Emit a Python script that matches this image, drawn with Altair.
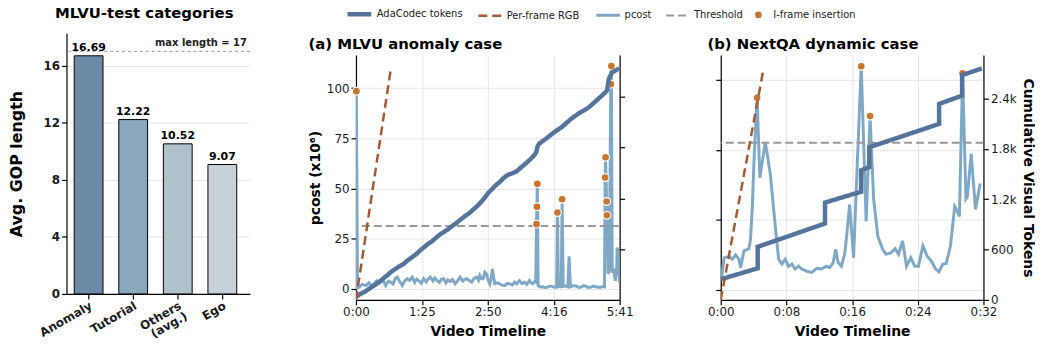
import altair as alt
import pandas as pd

FONT = "DejaVu Sans"

# ---------------- data ----------------
cats = ["Anomaly", "Tutorial", "Others (avg.)", "Ego"]
gop = [16.69, 12.22, 10.52, 9.07]
bar_colors = ["#6d8aa6", "#8aa7bb", "#afc1ca", "#c6d1d8"]
max_len = 17

SERIES = ["AdaCodec tokens", "Per-frame RGB", "pcost", "Threshold", "I-frame insertion"]
COLORS = ["#56739b", "#a65a33", "#7fa8c6", "#999999", "#c8762f"]
DASHES = [[1, 0], [9, 5], [1, 0], [8, 4], [1, 0]]
WIDTHS = [4.5, 2.5, 3, 2, 0]
LINE_SYMBOL = "M-2.4,0H2.4"
SHAPES = [LINE_SYMBOL, LINE_SYMBOL, LINE_SYMBOL, LINE_SYMBOL, "circle"]
SIZES = [100, 100, 100, 100, 45]

# (a) MLVU anomaly case: time in seconds
a_pcost = [
    (0.5, 98.5), (2.0, 0.5), (4.2, 0.8), (8.0, 2.2), (12.8, 1.6), (17.0, 3.0), (20.5, 1.2),
    (23.5, 2.5), (27.0, 4.0), (32.1, 3.3), (35.0, 4.5), (38.5, 1.6), (42.0, 3.8), (44.9, 3.3),
    (48.0, 2.4), (51.0, 5.2), (53.5, 5.8), (56.5, 3.6), (59.9, 1.6), (63.0, 3.9), (66.3, 5.0),
    (69.5, 4.2), (72.7, 5.8), (76.0, 3.2), (78.5, 4.8), (81.2, 4.1), (84.5, 2.8), (87.6, 5.0),
    (91.0, 3.4), (93.5, 4.9), (96.2, 5.8), (99.5, 3.9), (102.0, 5.4), (104.7, 4.1), (108.0, 3.2),
    (110.5, 4.7), (113.2, 5.0), (116.5, 2.9), (119.0, 4.4), (121.8, 3.6), (125.0, 4.6),
    (128.2, 2.5), (131.5, 4.0), (134.6, 5.8), (138.0, 3.8), (140.5, 4.6), (143.2, 5.0),
    (146.5, 4.1), (149.6, 3.3), (152.5, 5.1), (156.0, 5.8), (158.5, 4.3), (160.3, 6.6),
    (162.4, 5.0), (164.5, 5.0), (166.7, 8.3), (168.8, 7.4), (171.0, 4.4), (173.1, 2.5),
    (175.0, 5.5), (176.5, 9.9), (178.0, 6.0), (179.5, 2.5), (182.5, 3.0), (185.9, 2.5),
    (189.0, 1.8), (192.3, 1.6), (195.5, 2.6), (198.7, 2.5), (202.0, 1.9), (205.1, 3.3),
    (208.0, 2.4), (211.5, 4.1), (214.5, 2.6), (217.9, 3.3), (221.0, 2.2), (224.4, 4.1),
    (226.5, 3.0), (228.6, 2.5), (231.0, 3.6), (232.5, 3.3), (233.5, 32.2), (234.0, 40.9),
    (234.6, 52.3), (235.6, 1.6), (238.0, 0.9), (241.0, 1.0), (244.5, 0.6), (247.4, 0.8),
    (250.5, 1.3), (253.8, 1.2), (257.0, 0.7), (259.5, 0.8), (260.6, 38.0), (261.8, 1.0),
    (265.5, 1.0), (266.6, 44.6), (268.0, 1.2), (271.0, 1.4), (274.0, 1.0), (275.6, 16.2),
    (277.4, 1.0), (280.5, 1.5), (284.6, 1.4), (288.0, 0.7), (291.0, 0.8), (294.5, 1.6),
    (297.4, 1.2), (300.5, 0.6), (303.8, 0.8), (307.0, 1.3), (310.2, 1.0), (313.5, 0.7),
    (316.7, 0.7), (319.5, 1.2), (321.4, 1.0), (322.3, 55.4), (322.8, 65.5), (324.2, 43.5),
    (324.6, 36.6), (326.0, 7.5), (327.5, 9.0), (329.6, 102.0), (330.3, 111.0), (331.4, 8.0),
    (333.3, 10.0), (334.5, 6.0), (335.5, 4.0), (337.0, 8.0), (337.8, 20.6), (339.7, 16.5),
    (341.0, 3.0),
]
a_iframe = [
    (0.5, 98.5), (233.5, 32.2), (234.0, 40.9), (234.6, 52.3), (260.6, 38.0), (266.6, 44.6),
    (322.3, 55.4), (322.8, 65.5), (324.2, 43.5), (324.6, 36.6), (329.6, 102.0), (330.3, 111.0),
]
a_tokens = [
    (0, 58), (6, 120), (12, 165), (18, 230), (23.5, 284), (30, 350), (36, 430), (41, 490),
    (44.9, 545), (50, 600), (56, 660), (61, 700), (66.3, 771), (72, 835), (78, 900), (83, 975),
    (87.6, 1032), (93, 1100), (98, 1150), (104, 1230), (109.1, 1293), (115, 1350), (120, 1400),
    (125, 1460), (130.5, 1520), (136, 1590), (141, 1650), (146, 1700), (151.8, 1780),
    (157, 1850), (162, 1930), (166, 2000), (171, 2105), (176, 2180), (181, 2260), (186, 2320),
    (191, 2400), (196.6, 2464), (202, 2490), (207.4, 2528), (213, 2600), (219, 2680),
    (225, 2760), (230.8, 2852), (233, 2900), (235, 3030), (237.2, 3080), (242, 3130),
    (248, 3200), (254.3, 3275), (260, 3340), (266, 3400), (272, 3480), (278, 3560),
    (284.2, 3631), (290, 3690), (296, 3740), (301.3, 3793), (307, 3870), (312, 3940),
    (318.4, 4024), (322, 4080), (324.7, 4121), (327, 4349), (331.2, 4478), (336, 4520),
    (340.6, 4556),
]
a_rgb = [(0, 0), (44.9, 4528)]
a_thr = 31.3
a_xmax = 341
a_xticks = [0, 85.25, 170.5, 255.75, 341]
a_xlabels = ["0:00", "1:25", "2:50", "4:16", "5:41"]
a_pdom = [-5.55, 116.5]
a_pticks = [0, 25, 50, 75, 100]
a_tdom = [0, 4820]
a_tticks = [1000, 2000, 3000, 4000]
a_tlabels = ["", "", "", ""]

# (b) NextQA dynamic case
b_pcost = [
    (0.08, 0.16), (0.41, 0.46), (1.01, 0.48), (1.41, 0.44), (1.81, 0.50), (2.22, 0.44),
    (2.42, 0.32), (2.83, 0.56), (3.43, 0.59), (3.62, 0.72), (3.83, 1.15), (4.07, 1.90),
    (4.43, 2.74), (4.76, 1.60), (5.43, 2.11), (5.84, 1.80), (6.04, 1.65), (6.64, 0.91),
    (7.05, 0.44), (7.45, 0.37), (7.85, 0.44), (8.26, 0.34), (8.66, 0.37), (9.06, 0.30),
    (9.47, 0.34), (9.87, 0.30), (10.47, 0.27), (11.07, 0.25), (11.68, 0.31), (12.28, 0.30),
    (12.88, 0.34), (13.28, 0.32), (13.69, 0.39), (14.01, 0.58), (14.30, 0.39), (14.70, 0.34),
    (15.09, 0.51), (15.38, 0.82), (15.70, 1.22), (16.18, 0.46), (16.63, 1.80), (17.11, 3.19),
    (17.71, 0.98), (18.19, 2.48), (18.62, 1.30), (19.13, 0.77), (19.73, 0.58), (20.13, 0.51),
    (20.73, 0.53), (21.25, 0.59), (21.66, 0.51), (22.15, 0.70), (22.63, 0.34), (23.15, 0.46),
    (23.63, 0.34), (24.08, 0.34), (24.63, 0.63), (25.16, 0.48), (25.68, 0.41), (26.17, 0.30),
    (26.57, 0.26), (27.05, 0.37), (27.46, 0.38), (27.98, 0.63), (28.50, 1.19), (28.82, 1.12),
    (29.07, 1.05), (29.46, 3.09), (29.87, 1.30), (30.03, 1.33), (30.51, 1.94), (31.03, 1.15),
    (31.60, 1.52),
]
b_iframe = [(4.43, 2.74), (17.11, 3.19), (18.19, 2.48), (29.46, 3.09)]
b_tokens = [
    (0, 246), (4.5, 377), (4.5, 633), (12.7, 911), (12.7, 1161), (17.1, 1290), (17.1, 1545),
    (18.1, 1584), (18.1, 1821), (26.6, 2099), (26.6, 2337), (29.4, 2436), (29.4, 2681),
    (31.8, 2760),
]
b_rgb = [(0, 0), (5.2, 2750)]
b_thr = 2.10
b_xmax = 32
b_xticks = [0, 8, 16, 24, 32]
b_xlabels = ["0:00", "0:08", "0:16", "0:24", "0:32"]
b_pdom = [-0.14, 3.35]
b_pticks = [0, 1, 2, 3]
b_tdom = [0, 2920]
b_tticks = [0, 600, 1200, 1800, 2400]
b_tlabels = ["0", "600", "1.2k", "1.8k", "2.4k"]


# ---------------- helpers ----------------
def tick_expr(values, labels):
    parts = [f"datum.value == {v} ? '{l}'" for v, l in zip(values, labels)]
    return " : ".join(parts) + " : ''"


LEG = alt.Legend(
    title=None, orient="none", legendX=-4, legendY=-27, direction="horizontal",
    labelFontSize=10, labelFont=FONT, labelColor="#222222", labelOffset=10,
    columnPadding=10, padding=0, symbolFillColor="#c8762f",
)


def color_enc():
    return alt.Color("series:N", scale=alt.Scale(domain=SERIES, range=COLORS), legend=LEG)


def dash_enc():
    return alt.StrokeDash("series:N", scale=alt.Scale(domain=SERIES, range=DASHES), legend=LEG)


def width_enc():
    return alt.StrokeWidth("series:N", scale=alt.Scale(type="ordinal", domain=SERIES, range=WIDTHS), legend=LEG)


def shape_enc():
    return alt.Shape("series:N", scale=alt.Scale(domain=SERIES, range=SHAPES), legend=LEG)


def size_enc():
    return alt.Size("series:N", scale=alt.Scale(type="ordinal", domain=SERIES, range=SIZES), legend=LEG)


def frame(pairs, name, col="v"):
    df = pd.DataFrame(pairs, columns=["t", col])
    df["series"] = name
    df["i"] = range(len(df))
    return df


def panel(title, pcost, iframe, tokens, rgb, thr, xmax, xticks, xlabels,
          pdom, pticks, plabels, ptitle, tdom, tticks, tlabels, ttitle, w, h):
    xs = alt.Scale(domain=[0, xmax], nice=False, zero=False)
    xax = alt.Axis(values=xticks, labelExpr=tick_expr(xticks, xlabels), title="Video Timeline",
                   grid=True, labelFontSize=12, titleFontSize=14, titleFontWeight="bold",
                   labelPadding=2, titlePadding=7, labelFlush=False)
    ysL = alt.Scale(domain=pdom, nice=False, zero=False)
    yaxL = alt.Axis(values=pticks, labels=plabels, title=ptitle, grid=True, orient="left",
                    labelFontSize=12, titleFontSize=14, titleFontWeight="bold", titlePadding=4)
    ysR = alt.Scale(domain=tdom, nice=False, zero=False)
    yaxR = alt.Axis(values=tticks, labels=any(tlabels), labelExpr=tick_expr(tticks, tlabels),
                    title=ttitle, grid=False, orient="right", labelFontSize=12, labelPadding=2,
                    titleFontSize=14, titleFontWeight="bold", titlePadding=4)

    pc_df = frame(pcost, "pcost")
    if_df = frame(iframe, "I-frame insertion")
    thr_df = pd.DataFrame({"v": [thr], "series": ["Threshold"]})
    tok_df = frame(tokens, "AdaCodec tokens", "tok")
    rgb_df = frame(rgb, "Per-frame RGB", "tok")

    X = alt.X("t:Q", scale=xs, axis=xax)
    YL = alt.Y("v:Q", scale=ysL, axis=yaxL)
    YR = alt.Y("tok:Q", scale=ysR, axis=yaxR)

    pc_line = alt.Chart(pc_df).mark_line(clip=True).encode(
        x=X, y=YL, color=color_enc(), strokeDash=dash_enc(), strokeWidth=width_enc(),
        order="i:Q",
    )
    thr_rule = alt.Chart(thr_df).mark_rule().encode(
        y=YL, color=color_enc(), strokeDash=dash_enc(), strokeWidth=width_enc(),
    )
    dots_bg = alt.Chart(if_df).mark_circle(color="white", opacity=1, size=80).encode(x=X, y=YL)
    dots = alt.Chart(if_df).mark_point(filled=True, opacity=1).encode(
        x=X, y=YL, color=color_enc(), shape=shape_enc(), size=size_enc(),
    )
    tok_line = alt.Chart(tok_df).mark_line(clip=True).encode(
        x=X, y=YR, color=color_enc(), strokeDash=dash_enc(), strokeWidth=width_enc(),
        order="i:Q",
    )
    rgb_line = alt.Chart(rgb_df).mark_line(clip=True).encode(
        x=X, y=YR, color=color_enc(), strokeDash=dash_enc(), strokeWidth=width_enc(),
        order="i:Q",
    )
    left = alt.layer(pc_line, thr_rule, dots_bg, dots)
    right = alt.layer(tok_line, rgb_line)
    return alt.layer(left, right).resolve_scale(y="independent").properties(
        width=w, height=h,
        title=alt.TitleParams(text=title, anchor="start", offset=3, fontSize=15,
                              fontWeight="bold", font=FONT, color="black"),
    )


# ---------------- bar chart ----------------
bar_df = pd.DataFrame({"cat": cats, "gop": gop})
bx = alt.X("cat:N", sort=cats,
           scale=alt.Scale(paddingInner=0.354, paddingOuter=0.234, align=0.37),
           axis=alt.Axis(title=None, labelAngle=-30, labelAlign="right", labelBaseline="top",
                         labelFontWeight="bold", labelFontSize=12, labelPadding=1,
                         labelLineHeight=12,
                         labelExpr="datum.value == 'Others (avg.)' ? ['Others', '(avg.)'] : datum.label"))
by = alt.Y("gop:Q", scale=alt.Scale(domain=[0, 18.27], nice=False),
           axis=alt.Axis(values=[0, 4, 8, 12, 16], title="Avg. GOP length", grid=True,
                         labelFontWeight="bold", labelFontSize=12, titleFontSize=16,
                         titleFontWeight="bold", titlePadding=19))
bars = alt.Chart(bar_df).mark_bar(stroke="black", strokeWidth=1, opacity=1).encode(
    x=bx, y=by,
    fill=alt.Fill("cat:N", scale=alt.Scale(domain=cats, range=bar_colors), legend=None),
)
bar_text = alt.Chart(bar_df).mark_text(baseline="bottom", dy=-3, fontWeight="bold", fontSize=11,
                                       font=FONT, color="black").encode(
    x=alt.X("cat:N", sort=cats), y="gop:Q", text=alt.Text("gop:Q", format=".2f"),
)
max_df = pd.DataFrame({"m": [max_len], "label": [f"max length = {max_len}"]})
max_rule = alt.Chart(max_df).mark_rule(color="#999999", strokeDash=[3, 3], strokeWidth=1).encode(
    y="m:Q")
max_text = alt.Chart(max_df).mark_text(align="right", baseline="bottom", dy=-3, fontWeight="bold",
                                       fontSize=10, font=FONT, color="#222222").encode(
    x=alt.value(182), y="m:Q", text="label:N")
bar_chart = alt.layer(bars, max_rule, bar_text, max_text).properties(
    width=185, height=263,
    title=alt.TitleParams(text="MLVU-test categories", anchor="middle", offset=12, fontSize=15,
                          fontWeight="bold", font=FONT, dx=-14, color="black"),
)

pa = panel("(a) MLVU anomaly case", a_pcost, a_iframe, a_tokens, a_rgb, a_thr, a_xmax,
           a_xticks, a_xlabels, a_pdom, a_pticks, True, "pcost (x10⁶)",
           a_tdom, a_tticks, a_tlabels, None, 266, 247)
pb = panel("(b) NextQA dynamic case", b_pcost, b_iframe, b_tokens, b_rgb, b_thr, b_xmax,
           b_xticks, b_xlabels, b_pdom, b_pticks, False, None,
           b_tdom, b_tticks, b_tlabels, "Cumulative Visual Tokens", 265, 247)

# invisible 1px cell: lets the two timeline panels sit lower than the bar panel
spacer = alt.Chart(pd.DataFrame({"s": [0]})).mark_point(opacity=0, size=0).encode(
    x=alt.value(0), y=alt.value(0)).properties(width=1, height=1)

right_group = alt.vconcat(spacer, alt.hconcat(pa, pb, spacing=74), spacing=3)

chart = alt.hconcat(bar_chart, right_group, spacing=58).resolve_scale(
    color="independent", strokeDash="independent", strokeWidth="independent",
    shape="independent", size="independent",
).properties(
    padding={"left": 0, "top": -3, "right": 0, "bottom": -3},
).configure(font=FONT).configure_view(strokeWidth=0).configure_axis(
    domainColor="black", tickColor="black", labelColor="#1a1a1a", titleColor="black",
    gridColor="#e6e6e6", labelFont=FONT, titleFont=FONT, tickSize=5, domainWidth=1.2,
    tickWidth=1.2,
)

chart.save("out.html", embed_options={"renderer": "svg", "actions": False})
